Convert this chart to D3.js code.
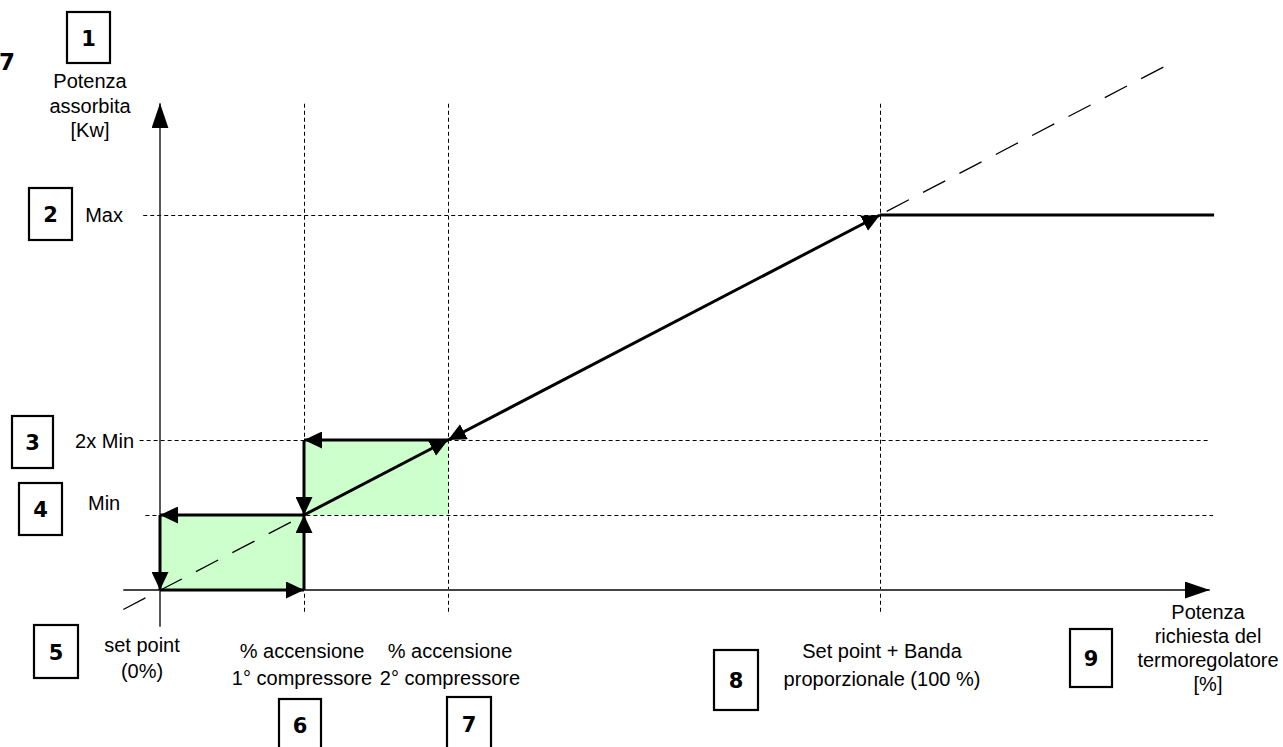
<!DOCTYPE html>
<html>
<head>
<meta charset="utf-8">
<script src="https://cdn.jsdelivr.net/npm/d3@7"></script>
<style>
  html, body { margin: 0; padding: 0; background: #fff; }
  svg { display: block; }
  text { font-family: "Liberation Sans", Arial, sans-serif; fill: #000; }
  .num { font-family: "DejaVu Sans", Verdana, sans-serif; font-weight: bold; }
</style>
</head>
<body>
<svg id="chart" width="1283" height="747"></svg>
<script>
// ---------- data (x in % of requested power, y in multiples of Min power) ----------
const xMarks = [0, 20, 40, 100];              // set point, 1st compressor, 2nd compressor, 100 %
const xMarkLabels = [["set point", "(0%)"], ["% accensione", "1° compressore"], ["% accensione", "2° compressore"], ["Set point + Banda", "proporzionale (100 %)"]];
const yMarks = [1, 2, 5];                     // Min, 2x Min, Max
const yMarkLabels = ["Min", "2x Min", "Max"];
const yAxisTitle = ["Potenza", "assorbita", "[Kw]"];
const xAxisTitle = ["Potenza", "richiesta del", "termoregolatore", "[%]"];
// green hysteresis areas [x0, x1, y0, y1]
const areas = [[0, 20, 0, 1], [20, 40, 1, 2]];
// thick control path segments [x0, y0, x1, y1, arrowStart, arrowEnd]
const segments = [
  [0, 0, 20, 0, false, true],
  [20, 0, 20, 1, false, true],
  [20, 1, 0, 1, false, true],
  [0, 1, 0, 0, false, true],
  [40, 2, 20, 2, false, true],
  [20, 2, 20, 1, false, true],
  [20, 1, 40, 2, false, true],
  [100, 5, 40, 2, true, true],
  [100, 5, 146.4, 5, false, false]
];
// ideal proportional line (dashed)
const idealLine = [[-5.1, -0.26], [140.3, 7.02]];
// numbered callouts
const callouts = ["1", "2", "3", "4", "5", "6", "7", "8", "9"];

// ---------- scales ----------
const svg = d3.select("#chart");
const x = d3.scaleLinear().domain([0, 100]).range([160, 880]);
const y = d3.scaleLinear().domain([0, 5]).range([590, 215]);

// arrow marker
const defs = svg.append("defs");
function marker(id, len, half) {
  defs.append("marker").attr("id", id)
    .attr("viewBox", `0 ${-half} ${len} ${2 * half}`)
    .attr("refX", len).attr("refY", 0)
    .attr("markerWidth", len).attr("markerHeight", 2 * half)
    .attr("markerUnits", "userSpaceOnUse")
    .attr("orient", "auto-start-reverse")
    .append("path").attr("d", `M0,${-half}L${len},0L0,${half}Z`).attr("fill", "#000");
}
marker("arr", 18, 8.5);
marker("axarr", 25, 8.5);

// green areas
svg.append("g").selectAll("rect").data(areas).join("rect")
  .attr("x", d => x(d[0])).attr("y", d => y(d[3]))
  .attr("width", d => x(d[1]) - x(d[0])).attr("height", d => y(d[2]) - y(d[3]))
  .attr("fill", "#ccffcc");

// dashed guide lines (half-pixel offset for crisp 1px lines)
const dash = svg.append("g").attr("transform", "translate(0.5,0.5)")
  .attr("stroke", "#000").attr("stroke-width", 1).attr("stroke-dasharray", "4,3").attr("fill", "none");
xMarks.slice(1).forEach(v => {
  dash.append("line").attr("x1", x(v)).attr("x2", x(v)).attr("y1", y(6.49)).attr("y2", y(-0.29));
});
const hExt = { 1: [-2.1, 146.2], 2: [-2.9, 145.8], 5: [-2.4, 100] };
yMarks.forEach(v => {
  dash.append("line").attr("x1", x(hExt[v][0])).attr("x2", x(hExt[v][1])).attr("y1", y(v)).attr("y2", y(v));
});

// ideal dashed diagonal
svg.append("line")
  .attr("x1", x(idealLine[0][0])).attr("y1", y(idealLine[0][1]))
  .attr("x2", x(idealLine[1][0])).attr("y2", y(idealLine[1][1]))
  .attr("stroke", "#000").attr("stroke-width", 1.3).attr("stroke-dasharray", "25,16");

// axes
svg.append("line").attr("x1", x(-5.1)).attr("x2", x(145.8)).attr("y1", y(0)).attr("y2", y(0))
  .attr("stroke", "#444").attr("stroke-width", 1.8).attr("marker-end", "url(#axarr)");
svg.append("line").attr("x1", x(0)).attr("x2", x(0)).attr("y1", y(-0.49)).attr("y2", y(6.49))
  .attr("stroke", "#222").attr("stroke-width", 1.5).attr("marker-end", "url(#axarr)");

// thick control path
svg.append("g").selectAll("line").data(segments).join("line")
  .attr("x1", d => x(d[0])).attr("y1", d => y(d[1]))
  .attr("x2", d => x(d[2])).attr("y2", d => y(d[3]))
  .attr("stroke", "#000").attr("stroke-width", 3)
  .attr("marker-start", d => d[4] ? "url(#arr)" : null)
  .attr("marker-end", d => d[5] ? "url(#arr)" : null);

// y labels
const yLabelPos = { 1: [88, 510, "start"], 2: [134, 448, "end"], 5: [123, 222, "end"] };
yMarks.forEach((v, i) => {
  svg.append("text").attr("x", yLabelPos[v][0]).attr("y", yLabelPos[v][1])
    .attr("text-anchor", yLabelPos[v][2]).attr("font-size", 20).text(yMarkLabels[i]);
});

// x labels
const xLabelPos = [[142, 652, 26], [302, 658, 27], [450, 658, 27], [882, 658, 28]];
xMarks.forEach((v, i) => {
  const t = svg.append("text").attr("text-anchor", "middle").attr("font-size", 20);
  xMarkLabels[i].forEach((s, j) => {
    t.append("tspan").attr("x", xLabelPos[i][0]).attr("y", xLabelPos[i][1] + j * xLabelPos[i][2]).text(s);
  });
});

// axis titles
const yt = svg.append("text").attr("text-anchor", "middle").attr("font-size", 20);
yAxisTitle.forEach((s, j) => yt.append("tspan").attr("x", 90).attr("y", 88 + j * 24.5).text(s));
const xt = svg.append("text").attr("text-anchor", "middle").attr("font-size", 20);
xAxisTitle.forEach((s, j) => xt.append("tspan").attr("x", 1208).attr("y", 619 + j * 24).text(s));

// numbered callout boxes [x, y, w, h]
const boxes = [[67, 12, 43, 51], [29, 188, 43, 52], [12, 416, 41, 52], [19, 483, 43, 52], [34, 625, 44, 53],
               [279, 699, 42, 52], [447, 697, 44, 53], [714, 650, 44, 60], [1070, 629, 42, 58]];
const cb = svg.append("g");
boxes.forEach((b, i) => {
  cb.append("rect").attr("x", b[0]).attr("y", b[1]).attr("width", b[2]).attr("height", b[3])
    .attr("fill", "#fff").attr("stroke", "#000").attr("stroke-width", 2.2);
  cb.append("text").attr("class", "num").attr("x", b[0] + b[2] / 2).attr("y", Math.min(b[1] + b[3] / 2 + 8, 742))
    .attr("text-anchor", "middle").attr("font-size", 21).text(callouts[i]);
});
// stray figure number at top-left
svg.append("text").attr("class", "num").attr("x", -1).attr("y", 70).attr("font-size", 23).text("7");
</script>
</body>
</html>
